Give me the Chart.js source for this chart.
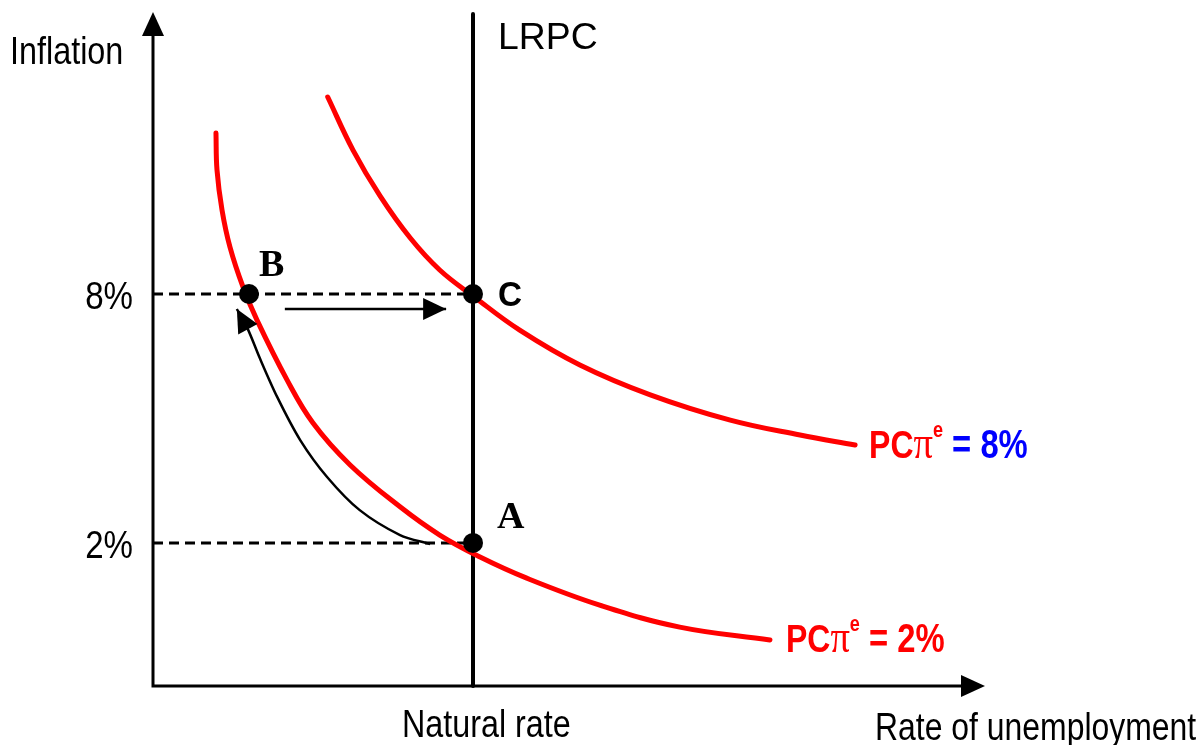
<!DOCTYPE html>
<html>
<head>
<meta charset="utf-8">
<script src="https://cdn.jsdelivr.net/npm/chart.js@4.4.1/dist/chart.umd.min.js"></script>
<style>
  html, body { margin: 0; padding: 0; background: #fff; }
  #wrap { width: 1199px; height: 745px; }
</style>
</head>
<body>
<div id="wrap"><canvas id="c"></canvas></div>
<script>
// axis ranges (x: unemployment, abstract units; y: inflation %)
const xRange = [0, 13];
const yRange = [-1.45, 14.8];
const naturalRate = 5;
const inflationTicks = [2, 8];
const tickLabels = ['2%', '8%'];

// short-run Phillips curve, expected inflation 2%
const pcLowX = [0.984, 1.00, 1.078, 1.203, 1.406, 1.625, 2.094, 2.50, 3.08, 3.86, 4.48, 5.11, 5.84, 6.98, 8.23, 9.64];
const pcLowY = [11.88, 10.99, 10.03, 9.13, 8.17, 7.37, 5.93, 4.89, 3.88, 2.87, 2.19, 1.66, 1.15, 0.50, -0.03, -0.34];

// short-run Phillips curve, expected inflation 8%
const pcHighX = [2.73, 3.125, 3.55, 4.02, 4.48, 5.02, 5.73, 6.67, 7.77, 9.02, 10.11, 10.97];
const pcHighY = [12.75, 11.47, 10.36, 9.35, 8.58, 7.93, 7.13, 6.29, 5.57, 4.96, 4.60, 4.36];

// points A, B, C
const pointNames = ['A', 'B', 'C'];
const pointX = [5, 1.50, 5];
const pointY = [2, 8, 8];

// move A -> B (curved) and B -> C (straight)
const arrowABX = [4.33, 3.86, 3.23, 2.72, 2.30, 1.94, 1.67, 1.48, 1.31];
const arrowABY = [1.97, 2.19, 2.79, 3.59, 4.48, 5.52, 6.45, 7.16, 7.64];
const arrowBCX = [2.06, 4.58];
const arrowBCY = [7.64, 7.64];

const lrpcTop = 14.75;

const RED = '#ff0000';
const BLUE = '#0000ff';
const SANS = '"Liberation Sans", Arial, sans-serif';
const SERIF = '"Liberation Serif", "Times New Roman", serif';

function zip(xs, ys) { return xs.map((x, i) => ({ x: x, y: ys[i] })); }

function label(ctx, text, x, y, font, color, align, sx) {
  ctx.save();
  ctx.font = font;
  const w = ctx.measureText(text).width * sx;
  const left = align === 'right' ? x - w : (align === 'center' ? x - w / 2 : x);
  ctx.translate(left, y);
  ctx.scale(sx, 1);
  ctx.fillStyle = color;
  ctx.textAlign = 'left';
  ctx.textBaseline = 'alphabetic';
  ctx.fillText(text, 0, 0);
  ctx.restore();
}

function drawRuns(ctx, runs, x, y, sx) {
  ctx.save();
  ctx.translate(x, y);
  ctx.scale(sx, 1);
  ctx.textAlign = 'left';
  ctx.textBaseline = 'alphabetic';
  let cx = 0;
  runs.forEach(r => {
    ctx.font = r.font;
    ctx.fillStyle = r.color;
    ctx.fillText(r.text, cx, r.dy || 0);
    cx += ctx.measureText(r.text).width;
  });
  ctx.restore();
}

function pcRuns(val, valColor) {
  return [
    { text: 'PC', font: 'bold 39px ' + SANS, color: RED },
    { text: 'π', font: '47px ' + SERIF, color: RED },
    { text: 'e', font: 'bold 22px ' + SANS, color: RED, dy: -21 },
    { text: ' = ' + val, font: 'bold 40px ' + SANS, color: valColor }
  ];
}

function triangle(ctx, tipX, tipY, fromX, fromY, len, half) {
  const a = Math.atan2(tipY - fromY, tipX - fromX);
  const bx = tipX - Math.cos(a) * len, by = tipY - Math.sin(a) * len;
  ctx.beginPath();
  ctx.moveTo(tipX, tipY);
  ctx.lineTo(bx + Math.sin(a) * half, by - Math.cos(a) * half);
  ctx.lineTo(bx - Math.sin(a) * half, by + Math.cos(a) * half);
  ctx.closePath();
  ctx.fill();
}

const decor = {
  id: 'decor',
  afterDatasetsDraw(chart) {
    const ctx = chart.ctx;
    const xs = chart.scales.x, ys = chart.scales.y;
    const x0 = xs.getPixelForValue(xRange[0]);
    const x1 = xs.getPixelForValue(xRange[1]);
    const y0 = ys.getPixelForValue(yRange[0]);
    const y1 = ys.getPixelForValue(yRange[1]);
    ctx.save();
    ctx.fillStyle = '#000';
    ctx.strokeStyle = '#000';

    // arrowheads on the movement arrows
    chart.data.datasets.forEach((ds, i) => {
      if (!ds.arrow) return;
      const pts = chart.getDatasetMeta(i).data;
      const a = pts[pts.length - 1], b = pts[pts.length - 2];
      triangle(ctx, a.x, a.y, b.x, b.y, 23, 11);
    });

    // axes
    ctx.lineWidth = 3;
    ctx.beginPath();
    ctx.moveTo(x0, y0 + 1.5);
    ctx.lineTo(x0, y1 + 20);
    ctx.moveTo(x0 - 1.5, y0);
    ctx.lineTo(x1 - 20, y0);
    ctx.stroke();
    triangle(ctx, x0, y1, x0, y1 + 10, 24, 11);
    triangle(ctx, x1, y0, x1 - 10, y0, 24, 11);
    ctx.restore();
  },
  afterDraw(chart) {
    const ctx = chart.ctx;
    const xs = chart.scales.x, ys = chart.scales.y;
    const left = chart.chartArea.left, bottom = chart.chartArea.bottom;

    label(ctx, 'Inflation', 10, 64, '39px ' + SANS, '#000', 'left', 0.83);
    label(ctx, 'LRPC', xs.getPixelForValue(naturalRate) + 25, 49, '37px ' + SANS, '#000', 'left', 1.01);
    label(ctx, 'Natural rate', xs.getPixelForValue(naturalRate) - 71, bottom + 51, '38px ' + SANS, '#000', 'left', 0.85);
    label(ctx, 'Rate of unemployment', 875, bottom + 54, '38px ' + SANS, '#000', 'left', 0.84);

    inflationTicks.forEach((v, i) => {
      label(ctx, tickLabels[i], left - 20, ys.getPixelForValue(v) + 15, '38px ' + SANS, '#000', 'right', 0.87);
    });

    const px = n => xs.getPixelForValue(pointX[pointNames.indexOf(n)]);
    const py = n => ys.getPixelForValue(pointY[pointNames.indexOf(n)]);
    label(ctx, 'B', px('B') + 10, py('B') - 18, 'bold 38px ' + SERIF, '#000', 'left', 1);
    label(ctx, 'A', px('A') + 24, py('A') - 15, 'bold 38px ' + SERIF, '#000', 'left', 1);
    label(ctx, 'C', px('C') + 25, py('C') + 12, 'bold 35px ' + SANS, '#000', 'left', 0.95);

    const hiEnd = { x: xs.getPixelForValue(pcHighX[pcHighX.length - 1]), y: ys.getPixelForValue(pcHighY[pcHighY.length - 1]) };
    const loEnd = { x: xs.getPixelForValue(pcLowX[pcLowX.length - 1]), y: ys.getPixelForValue(pcLowY[pcLowY.length - 1]) };
    drawRuns(ctx, pcRuns('8%', BLUE), hiEnd.x + 14, hiEnd.y + 13, 0.82);
    drawRuns(ctx, pcRuns('2%', RED), loEnd.x + 16, loEnd.y + 12, 0.82);
  }
};

const lineBase = { showLine: true, pointRadius: 0, pointHoverRadius: 0, fill: false, clip: false };

new Chart(document.getElementById('c'), {
  type: 'scatter',
  data: {
    datasets: [
      { label: 'points', data: zip(pointX, pointY), showLine: false, pointRadius: 10, pointHoverRadius: 10,
        pointBackgroundColor: '#000', pointBorderWidth: 0, clip: false, order: 0 },
      Object.assign({}, lineBase, { label: 'A to B', data: zip(arrowABX, arrowABY), borderColor: '#000', borderWidth: 2.5, tension: 0.3, arrow: true, order: 1 }),
      Object.assign({}, lineBase, { label: 'B to C', data: zip(arrowBCX, arrowBCY), borderColor: '#000', borderWidth: 2.5, arrow: true, order: 1 }),
      Object.assign({}, lineBase, { label: 'PC 2%', data: zip(pcLowX, pcLowY), borderColor: RED, borderWidth: 5, tension: 0.4, borderCapStyle: 'round', order: 2 }),
      Object.assign({}, lineBase, { label: 'PC 8%', data: zip(pcHighX, pcHighY), borderColor: RED, borderWidth: 5, tension: 0.4, borderCapStyle: 'round', order: 2 }),
      Object.assign({}, lineBase, { label: 'LRPC', data: [{ x: naturalRate, y: lrpcTop }, { x: naturalRate, y: yRange[0] }], borderColor: '#000', borderWidth: 4, borderCapStyle: 'round', order: 3 }),
      Object.assign({}, lineBase, { label: '8% level', data: [{ x: xRange[0], y: inflationTicks[1] }, { x: naturalRate, y: inflationTicks[1] }], borderColor: '#000', borderWidth: 3, borderDash: [10, 6], order: 4 }),
      Object.assign({}, lineBase, { label: '2% level', data: [{ x: xRange[0], y: inflationTicks[0] }, { x: naturalRate, y: inflationTicks[0] }], borderColor: '#000', borderWidth: 3, borderDash: [10, 6], order: 4 })
    ]
  },
  options: {
    responsive: true,
    maintainAspectRatio: false,
    animation: false,
    events: [],
    layout: { padding: { left: 153, right: 214, top: 12, bottom: 59 } },
    plugins: { legend: { display: false }, tooltip: { enabled: false } },
    scales: {
      x: { type: 'linear', min: xRange[0], max: xRange[1], display: false },
      y: { type: 'linear', min: yRange[0], max: yRange[1], display: false }
    }
  },
  plugins: [decor]
});
</script>
</body>
</html>
